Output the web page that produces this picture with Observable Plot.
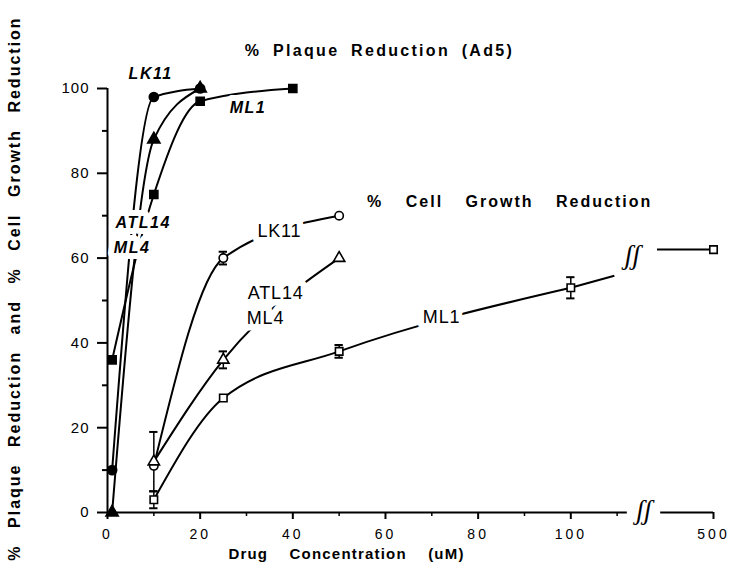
<!DOCTYPE html>
<html><head><meta charset="utf-8">
<script src="https://cdn.jsdelivr.net/npm/d3@7"></script>
<script src="https://cdn.jsdelivr.net/npm/@observablehq/plot@0.6"></script>
<style>
body{margin:0;background:#fff}
#chart svg{display:block}
g[aria-description="title1"] text{letter-spacing:2.3px;word-spacing:5px}
g[aria-description="title2"] text{letter-spacing:2px;word-spacing:16px}
g[aria-label="x-axis tick label"] text{letter-spacing:3px}
g[aria-label="y-axis tick label"] text{letter-spacing:1px;font-size:15px}
g[aria-description="ylabel"] text{word-spacing:10px;letter-spacing:2px}
g[aria-description="xlabel"] text{word-spacing:16px;letter-spacing:1.2px}
g[aria-description="plaque labels"] text{letter-spacing:1.5px}
g[aria-description="cell labels"] text{letter-spacing:0.8px}
</style></head>
<body><div id="chart"></div>
<script>
// ---- data ----
// % plaque reduction (Ad5), filled markers
const plaqueLK11Conc = [1, 10, 20];
const plaqueLK11 = [10, 98, 100];
const plaqueATL14Conc = [1, 10, 20];
const plaqueATL14 = [0, 88, 100];
const plaqueML1Conc = [1, 10, 20, 40];
const plaqueML1 = [36, 75, 97, 100];
// % cell growth reduction, open markers
const cellLK11Conc = [10, 25, 50];
const cellLK11 = [11, 60, 70];
const cellLK11Err = [0, 1.5, 0];
const cellATL14Conc = [10, 25, 50];
const cellATL14 = [12, 36, 60];
const cellATL14Err = [7, 2, 0];
const cellML1Conc = [10, 25, 50, 100, 500];
const cellML1 = [3, 27, 38, 53, 62];
const cellML1Err = [2, 0, 1.5, 2.5, 0];
// ticks
const xMajorTicks = [0, 20, 40, 60, 80, 100, 500];
const xMinorTicks = [10, 30, 50, 70, 90, 110];
const yMajorTicks = [0, 20, 40, 60, 80, 100];
const yMinorTicks = [10, 30, 50, 70, 90];
const symbolsBySeries = {LK11: "circle", ATL14: "triangle", ML1: "square"};

// ---- broken x axis ----
const POS500 = 130.8;                 // display position of 500 uM
const AXIS_BREAK = [112.2, 119.4];
const CURVE_BREAK = [109.4, 118.6];
const xPos = c => (c === 500 ? POS500 : c);

function rows(series, conc, vals, errs) {
  return conc.map((c, i) => ({series, c, x: xPos(c), v: vals[i], e: errs ? errs[i] : 0}));
}
const plaque = [
  ...rows("LK11", plaqueLK11Conc, plaqueLK11),
  ...rows("ATL14", plaqueATL14Conc, plaqueATL14),
  ...rows("ML1", plaqueML1Conc, plaqueML1)
];
const cell = [
  ...rows("LK11", cellLK11Conc, cellLK11, cellLK11Err),
  ...rows("ATL14", cellATL14Conc, cellATL14, cellATL14Err),
  ...rows("ML1", cellML1Conc, cellML1, cellML1Err)
];
const cellMain = cell.filter(d => d.c <= 100);
const ml1 = cell.filter(d => d.series === "ML1");
const pA = ml1[ml1.length - 3], pB = ml1[ml1.length - 2], pC = ml1[ml1.length - 1];
const slope = (pB.v - pA.v) / (pB.x - pA.x);
const ext = [
  {x1: pB.x, y1: pB.v, x2: CURVE_BREAK[0], y2: pB.v + slope * (CURVE_BREAK[0] - pB.x)},
  {x1: CURVE_BREAK[1], y1: pC.v, x2: pC.x, y2: pC.v}
];
const errs = cell.filter(d => d.e > 0);
const caps = errs.flatMap(d => [{x: d.x, y: d.v + d.e}, {x: d.x, y: d.v - d.e}]);
const axisSegs = [{x1: 0, x2: AXIS_BREAK[0]}, {x1: AXIS_BREAK[1], x2: POS500}];

// ---- annotations ----
const title1 = [{x: 58.7, y: 108.8, text: "% Plaque Reduction (Ad5)"}];
const title2 = [{x: 86.8, y: 73.3, text: "% Cell Growth Reduction"}];
const plaqueLabels = [
  {x: 9.3, y: 103.5, text: "LK11"},
  {x: 30.3, y: 95.5, text: "ML1"},
  {x: 7.7, y: 68.4, text: "ATL14"},
  {x: 5.3, y: 62.5, text: "ML4"}
];
const cellLabels = [
  {x: 37.1, y: 66.3, text: "LK11"},
  {x: 36.3, y: 51.7, text: "ATL14"},
  {x: 34.1, y: 45.8, text: "ML4"},
  {x: 72.1, y: 46.0, text: "ML1"}
];
const squiggles = [{x: 115.8, y: 0.5}, {x: 113.3, y: 60.6}];

const fontFam = "'Liberation Sans', Arial, Helvetica, sans-serif";
const chart = Plot.plot({
  width: 732, height: 578,
  marginLeft: 107, marginRight: 19, marginTop: 88, marginBottom: 66,
  style: {fontFamily: fontFam, fontSize: "14px", color: "black", background: "white", overflow: "visible"},
  x: {domain: [0, POS500]},
  y: {domain: [0, 100]},
  symbol: {domain: Object.keys(symbolsBySeries), range: Object.values(symbolsBySeries)},
  marks: [
    // axes
    Plot.ruleY(axisSegs, {y: 0, x1: "x1", x2: "x2", strokeWidth: 2}),
    Plot.ruleX([0], {y1: 0, y2: 100, strokeWidth: 2}),
    Plot.axisY({ticks: yMajorTicks, tickSize: 10, tickPadding: 8, strokeWidth: 2, label: null}),
    Plot.axisY({ticks: yMinorTicks, tickSize: 5, tickFormat: () => "", strokeWidth: 2, label: null}),
    Plot.axisX({ticks: xMajorTicks.map(xPos), tickSize: 7, tickPadding: 10, strokeWidth: 2, label: null,
      tickFormat: d => String(xMajorTicks[xMajorTicks.map(xPos).indexOf(d)])}),
    Plot.axisX({ticks: xMinorTicks, tickSize: 4, tickFormat: () => "", strokeWidth: 1.5, label: null}),
    // curves
    Plot.line(plaque, {x: "x", y: "v", z: "series", curve: "monotone-x", stroke: "black", strokeWidth: 2}),
    Plot.line(cellMain, {x: "x", y: "v", z: "series", curve: "monotone-x", stroke: "black", strokeWidth: 2}),
    Plot.link(ext, {x1: "x1", y1: "y1", x2: "x2", y2: "y2", stroke: "black", strokeWidth: 2}),
    // error bars
    Plot.ruleX(errs, {x: "x", y1: d => d.v - d.e, y2: d => d.v + d.e, strokeWidth: 1.5}),
    Plot.ruleY(caps, {y: "y", x1: d => d.x - 0.9, x2: d => d.x + 0.9, strokeWidth: 2}),
    // labels with white halo (break the curves)
    Plot.text(plaqueLabels, {x: "x", y: "y", text: "text", fontStyle: "italic", fontSize: 16, fontWeight: "bold",
      stroke: "white", strokeWidth: 12, fill: "black", ariaDescription: "plaque labels"}),
    Plot.text(cellLabels, {x: "x", y: "y", text: "text", fontSize: 18, stroke: "white", strokeWidth: 13, fill: "black",
      ariaDescription: "cell labels"}),
    Plot.text(squiggles, {x: "x", y: "y", text: () => "ʃʃ", fontSize: 27, fontStyle: "italic", fontFamily: "'Liberation Serif', serif",
      stroke: "white", strokeWidth: 5, fill: "black", ariaDescription: "breaks"}),
    // markers
    Plot.dot(plaque, {x: "x", y: "v", symbol: "series", r: 4.6, fill: "black", stroke: "black"}),
    Plot.dot(cell, {x: "x", y: "v", symbol: "series", r: 4.2, fill: "white", stroke: "black", strokeWidth: 1.6}),
    // titles
    Plot.text(title1, {x: "x", y: "y", text: "text", fontWeight: "bold", fontSize: 16, ariaDescription: "title1"}),
    Plot.text(title2, {x: "x", y: "y", text: "text", fontWeight: "bold", fontSize: 16, ariaDescription: "title2"}),
    Plot.text(["% Plaque Reduction and % Cell Growth Reduction"], {frameAnchor: "left", textAnchor: "middle", rotate: -90,
      dx: -93, dy: -12, fontWeight: "bold", fontSize: 16, ariaDescription: "ylabel"}),
    Plot.text(["Drug Concentration (uM)"], {frameAnchor: "bottom", textAnchor: "middle", dx: -64, dy: 46,
      fontWeight: "bold", fontSize: 15, ariaDescription: "xlabel"})
  ]
});
document.getElementById("chart").appendChild(chart);
</script></body></html>
